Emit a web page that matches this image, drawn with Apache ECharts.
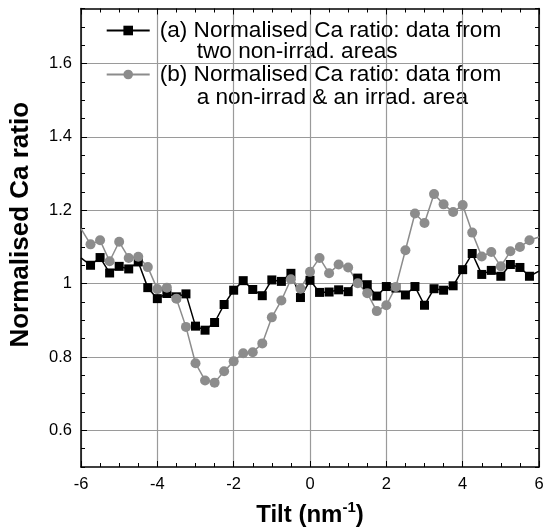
<!DOCTYPE html>
<html><head><meta charset="utf-8">
<script src="https://cdn.jsdelivr.net/npm/echarts@6/dist/echarts.min.js"></script>
<style>html,body{margin:0;padding:0;background:#fff}#c{width:550px;height:532px}</style>
</head><body><div id="c"></div>
<script>
// ---- data ----
const tilt = [-6, -5.75, -5.5, -5.25, -5, -4.75, -4.5, -4.25, -4, -3.75, -3.5, -3.25, -3,
  -2.75, -2.5, -2.25, -2, -1.75, -1.5, -1.25, -1, -0.75, -0.5, -0.25, 0,
  0.25, 0.5, 0.75, 1, 1.25, 1.5, 1.75, 2, 2.25, 2.5, 2.75, 3,
  3.25, 3.5, 3.75, 4, 4.25, 4.5, 4.75, 5, 5.25, 5.5, 5.75, 6];
const ratioA = [1.070, 1.050, 1.071, 1.029, 1.047, 1.040, 1.059, 0.989, 0.959, 0.973, 0.964, 0.972, 0.884,
  0.873, 0.894, 0.943, 0.982, 1.008, 0.984, 0.967, 1.010, 1.006, 1.028, 0.962, 1.009,
  0.976, 0.977, 0.983, 0.978, 1.015, 0.997, 0.966, 0.992, 0.988, 0.969, 0.992, 0.941,
  0.986, 0.982, 0.994, 1.038, 1.082, 1.025, 1.036, 1.020, 1.052, 1.044, 1.020, 1.034];
const ratioB = [1.150, 1.107, 1.118, 1.061, 1.114, 1.070, 1.073, 1.045, 0.985, 0.989, 0.959, 0.882, 0.783,
  0.736, 0.730, 0.761, 0.788, 0.810, 0.813, 0.837, 0.908, 0.954, 1.012, 0.986, 1.032,
  1.070, 1.028, 1.052, 1.044, 1.001, 0.974, 0.925, 0.941, 0.991, 1.091, 1.191, 1.165,
  1.244, 1.216, 1.195, 1.214, 1.139, 1.074, 1.086, 1.047, 1.088, 1.100, 1.118, 1.127];
const xTicks = [-6, -4, -2, 0, 2, 4, 6];
const yTicks = [0.6, 0.8, 1, 1.2, 1.4, 1.6];
const yRange = [0.5, 1.75];
const legendA = ['(a) Normalised Ca ratio: data from', 'two non-irrad. areas'];
const legendB = ['(b) Normalised Ca ratio: data from', 'a non-irrad & an irrad. area'];
const xTitle = 'Tilt (nm';
const xTitleSup = '-1';
const yTitle = 'Normalised Ca ratio';

// ---- chart ----
const FONT = 'Liberation Sans, Arial, Helvetica, sans-serif';
const GRAY = '#8c8c8c';
const GRID = '#9a9a9a';
const chart = echarts.init(document.getElementById('c'), null, {renderer: 'canvas'});

function seriesData(vals) {
  const last = tilt.length - 1;
  return tilt.map((x, i) => (i === 0 || i === last) ? {value: [x, vals[i]], symbol: 'none'} : [x, vals[i]]);
}
const frame = () => ({show: true, onZero: false, lineStyle: {color: '#000', width: 1.5}});
const majorTick = (extra) => Object.assign({show: true, inside: true, length: 6, lineStyle: {color: '#000', width: 1}}, extra || {});
const minorTickX = () => ({show: true, splitNumber: 4, length: 4, lineStyle: {color: '#000', width: 1}});
// minor-tick axis for y: ticks every 0.05 from 0.5; only every 4th split line (0.6, 0.8, ...) visible
const yMinorSplitColors = ['rgba(0,0,0,0)', 'rgba(0,0,0,0)', GRID, 'rgba(0,0,0,0)'];

chart.setOption({
  animation: false,
  backgroundColor: '#fff',
  grid: {left: 80.5, right: 11, top: 8.5, bottom: 65, containLabel: false},
  xAxis: [
    {type: 'value', position: 'bottom', min: xTicks[0], max: xTicks[xTicks.length - 1], interval: 2,
     axisLine: frame(), axisTick: majorTick(), minorTick: minorTickX(),
     splitLine: {show: true, lineStyle: {color: GRID, width: 1.2}},
     axisLabel: {show: true, margin: 9, color: '#000', fontSize: 16.5, fontFamily: FONT},
     name: xTitle + '{sup|' + xTitleSup + '})', nameLocation: 'middle', nameGap: 33,
     nameTextStyle: {color: '#000', fontSize: 24, fontWeight: 'bold', fontFamily: FONT,
       rich: {sup: {fontSize: 15, fontWeight: 'bold', fontFamily: FONT, color: '#000', padding: [0, 0, 15, 0]}}}},
    {type: 'value', show: true, position: 'top', offset: 0, min: xTicks[0], max: xTicks[xTicks.length - 1], interval: 2,
     axisLine: frame(), axisTick: majorTick(), minorTick: minorTickX(), splitLine: {show: false},
     axisLabel: {show: false}}
  ],
  yAxis: [
    {type: 'value', position: 'left', min: yRange[0], max: yRange[1],
     axisLine: frame(),
     axisTick: majorTick({customValues: yTicks}),
     splitLine: {show: false},
     axisLabel: {show: true, customValues: yTicks, margin: 9, color: '#000', fontSize: 16.5, fontFamily: FONT},
     name: yTitle, nameLocation: 'middle', nameGap: 47, nameRotate: 90,
     nameTextStyle: {color: '#000', fontSize: 26, fontWeight: 'bold', fontFamily: FONT, padding: [0, 0, 0, 26]}},
    {type: 'value', position: 'right', min: yRange[0], max: yRange[1],
     axisLine: frame(),
     axisTick: majorTick({customValues: yTicks}),
     splitLine: {show: false}, axisLabel: {show: false, customValues: yTicks}},
    {type: 'value', position: 'left', min: yRange[0], max: yRange[1], interval: 0.05,
     axisLine: {show: false, onZero: false},
     axisTick: {show: true, inside: true, length: 4, lineStyle: {color: '#000'}},
     splitLine: {show: true, lineStyle: {color: yMinorSplitColors, width: 1.2}},
     axisLabel: {show: false}},
    {type: 'value', position: 'right', min: yRange[0], max: yRange[1], interval: 0.05,
     axisLine: {show: false, onZero: false},
     axisTick: {show: true, inside: true, length: 4, lineStyle: {color: '#000'}},
     splitLine: {show: false}, axisLabel: {show: false}}
  ],
  legend: {
    orient: 'vertical', left: 105.7, top: 19, padding: 0, itemWidth: 43, itemHeight: 12, itemGap: 21,
    data: [legendA[0], legendB[0]],
    textStyle: {color: '#000', fontSize: 22.6, fontFamily: FONT, lineHeight: 23, padding: [0, 0, 0, 5]},
    selectedMode: false
  },
  graphic: [
    {type: 'text', x: 196.7, y: 52, silent: true,
     style: {text: legendA[1], fill: '#000', font: '22.6px ' + FONT, align: 'left', verticalAlign: 'middle'}},
    {type: 'text', x: 196.7, y: 98, silent: true,
     style: {text: legendB[1], fill: '#000', font: '22.6px ' + FONT, align: 'left', verticalAlign: 'middle'}}
  ],
  series: [
    {name: legendA[0], type: 'line', xAxisIndex: 0, yAxisIndex: 0, data: seriesData(ratioA),
     symbol: 'rect', symbolSize: 9, color: '#000',
     lineStyle: {color: '#000', width: 1.5}, itemStyle: {color: '#000'}, clip: true},
    {name: legendB[0], type: 'line', xAxisIndex: 0, yAxisIndex: 0, data: seriesData(ratioB),
     symbol: 'circle', symbolSize: 10, color: GRAY,
     lineStyle: {color: GRAY, width: 1.5}, itemStyle: {color: GRAY}, clip: true}
  ]
});
</script></body></html>
